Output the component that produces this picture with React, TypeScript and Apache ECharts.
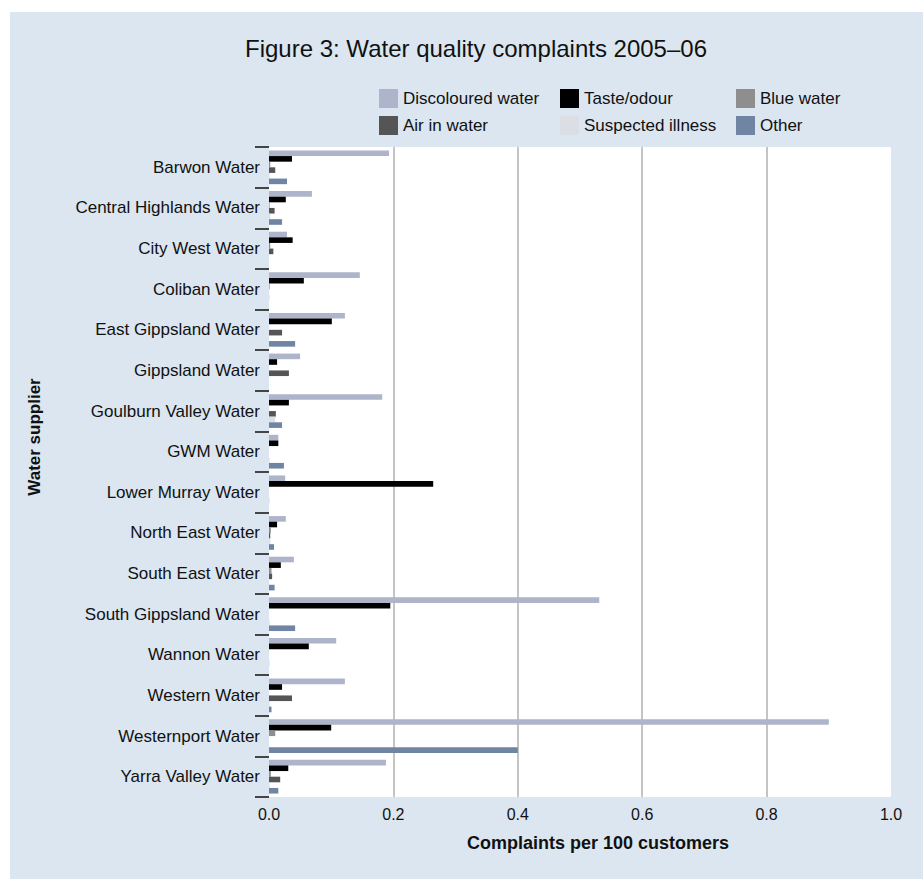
import React, { useEffect, useRef } from "react";
import * as echarts from "echarts";

const suppliers = [
  "Barwon Water",
  "Central Highlands Water",
  "City West Water",
  "Coliban Water",
  "East Gippsland Water",
  "Gippsland Water",
  "Goulburn Valley Water",
  "GWM Water",
  "Lower Murray Water",
  "North East Water",
  "South East Water",
  "South Gippsland Water",
  "Wannon Water",
  "Western Water",
  "Westernport Water",
  "Yarra Valley Water",
];

const discoloured = [0.193, 0.069, 0.029, 0.146, 0.122, 0.05, 0.182, 0.015, 0.026, 0.027, 0.04, 0.531, 0.108, 0.122, 0.9, 0.188];
const tasteOdour = [0.037, 0.027, 0.038, 0.056, 0.101, 0.013, 0.032, 0.015, 0.264, 0.013, 0.019, 0.195, 0.064, 0.021, 0.1, 0.031];
const blueWater = [0.002, 0.001, 0.002, 0.001, 0, 0, 0, 0, 0, 0.003, 0.004, 0, 0, 0, 0.01, 0.003];
const airInWater = [0.01, 0.009, 0.007, 0, 0.021, 0.032, 0.011, 0, 0, 0.002, 0.005, 0, 0, 0.037, 0, 0.018];
const suspectedIllness = [0.001, 0.002, 0, 0.001, 0, 0, 0.01, 0.001, 0.001, 0.002, 0, 0.001, 0.001, 0.001, 0, 0.001];
const other = [0.029, 0.021, 0, 0, 0.042, 0, 0.021, 0.024, 0, 0.008, 0.009, 0.042, 0, 0.004, 0.4, 0.015];

const seriesDefs = [
  { name: "Discoloured water", data: discoloured, color: "#aeb4c9" },
  { name: "Taste/odour", data: tasteOdour, color: "#000000" },
  { name: "Blue water", data: blueWater, color: "#8e8e8e" },
  { name: "Air in water", data: airInWater, color: "#555555" },
  { name: "Suspected illness", data: suspectedIllness, color: "#dcdee6" },
  { name: "Other", data: other, color: "#7084a3" },
];

const FONT = "'Liberation Sans', Roboto, sans-serif";

export default function App() {
  const ref = useRef<HTMLDivElement>(null);
  useEffect(() => {
    if (!ref.current) return;
    const chart = echarts.init(ref.current, null, { renderer: "svg" });
    const legendBase = {
      orient: "vertical",
      itemWidth: 19,
      itemHeight: 19,
      itemGap: 8,
      icon: "rect",
      textStyle: { fontFamily: FONT, fontSize: 17, color: "#111" },
      selectedMode: false,
    };
    chart.setOption({
      animation: false,
      backgroundColor: "#dbe6f0",
      textStyle: { fontFamily: FONT },
      title: {
        text: "Figure 3: Water quality complaints 2005\u201306",
        left: 461,
        top: 19,
        textAlign: "center",
        textStyle: { fontFamily: FONT, fontSize: 24, fontWeight: "normal", color: "#111" },
      },
      legend: [
        { ...legendBase, left: 364, top: 72, data: ["Discoloured water", "Air in water"] },
        { ...legendBase, left: 545, top: 72, data: ["Taste/odour", "Suspected illness"] },
        { ...legendBase, left: 721, top: 72, data: ["Blue water", "Other"] },
      ],
      grid: {
        left: 259,
        right: 32,
        top: 135,
        bottom: 82,
        show: true,
        backgroundColor: "#ffffff",
        borderWidth: 0,
      },
      xAxis: {
        type: "value",
        min: 0,
        max: 1,
        interval: 0.2,
        name: "Complaints per 100 customers",
        nameLocation: "middle",
        nameGap: 37,
        nameTextStyle: {
          fontFamily: FONT,
          fontSize: 18,
          fontWeight: "bold",
          color: "#111",
          padding: [0, 0, 0, 36],
        },
        axisLine: { show: false },
        axisTick: { show: false },
        axisLabel: {
          margin: 9,
          fontSize: 16,
          color: "#111",
          fontFamily: FONT,
          formatter: (v: number) => v.toFixed(1),
        },
        splitLine: {
          show: true,
          lineStyle: {
            color: ["rgba(0,0,0,0)", "#b0b0b0", "#b0b0b0", "#b0b0b0", "#b0b0b0", "rgba(0,0,0,0)"],
            width: 1.5,
          },
        },
      },
      yAxis: {
        type: "category",
        data: suppliers,
        inverse: true,
        name: "Water supplier",
        nameLocation: "middle",
        nameGap: 226,
        nameTextStyle: {
          fontFamily: FONT,
          fontSize: 17,
          fontWeight: "bold",
          color: "#111",
          padding: [0, 0, 0, 70],
        },
        axisLine: { show: false },
        axisTick: { show: true, length: 14, lineStyle: { color: "#111", width: 1.5 } },
        axisLabel: { margin: 9, fontSize: 17, color: "#111", fontFamily: FONT },
        splitLine: { show: false },
      },
      series: seriesDefs.map((s) => ({
        type: "bar",
        name: s.name,
        data: s.data,
        barGap: "0%",
        barCategoryGap: "17%",
        itemStyle: { color: s.color },
      })),
    });
    return () => chart.dispose();
  }, []);
  return (
    <div
      ref={ref}
      style={{ position: "fixed", left: 10, top: 12, width: 913, height: 867 }}
    />
  );
}
